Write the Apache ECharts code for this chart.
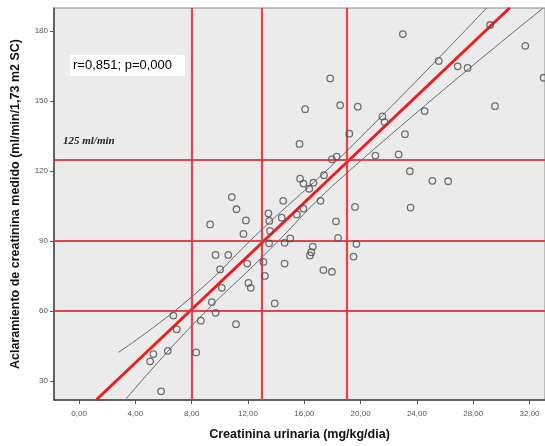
<!DOCTYPE html>
<html lang="es">
<head>
    <meta charset="UTF-8">
    <title>Creatinina urinaria vs aclaramiento</title>
    <script src="https://cdn.jsdelivr.net/npm/echarts@6/dist/echarts.min.js"></script>
    <style>
        html, body { margin: 0; padding: 0; background: #fff; }
    </style>
</head>
<body>
<div id="main" style="height:446px;width:545px"></div>

<script type="text/javascript">
    // ejes
    var xTicks = [0, 4, 8, 12, 16, 20, 24, 28, 32];
    var yTicks = [30, 60, 90, 120, 150, 180];

    // lineas de referencia
    var refX = [8, 13, 19];
    var refY = [60, 90, 125];

    // pacientes: creatinina urinaria (mg/kg/dia) y aclaramiento medido
    var creatinina = [5.83, 5.05, 5.28, 6.3, 8.32, 6.7, 6.94, 8.65, 9.43, 9.7,
        11.15, 10.14, 10.02, 9.7, 10.6, 9.31, 11.95, 12.03, 12.2, 11.68,
        11.85, 11.18, 10.85, 13.9, 13.1, 13.2, 13.45, 13.52, 13.5, 13.57,
        14.5, 14.4, 14.6, 15.0, 14.6, 15.7, 15.94, 16.65, 16.35, 17.4,
        17.15, 15.94, 15.47, 19.6, 18.25, 18.4, 19.7, 16.6, 16.4, 16.5,
        19.5, 17.36, 17.96, 17.84, 16.06, 18.55, 15.66, 19.2, 17.96, 18.3,
        23.0, 29.2, 31.7, 33.0, 25.55, 26.9, 27.6, 29.55, 19.8, 21.55,
        21.7, 24.55, 23.15, 21.05, 22.7, 23.5, 25.1, 26.22, 23.55];
    var aclaramiento = [25.5, 38.4, 41.5, 42.9, 42.2, 58.0, 52.1, 55.8, 63.8, 59.2,
        54.3, 69.9, 77.8, 84.0, 84.0, 97.1, 80.3, 72.0, 69.9, 93.0,
        98.8, 103.6, 108.8, 63.2, 81.0, 75.0, 101.8, 98.6, 89.0, 94.3,
        107.2, 100.0, 89.2, 91.1, 80.3, 116.7, 114.6, 115.0, 112.4, 118.2,
        107.2, 103.9, 101.4, 104.6, 98.4, 91.3, 88.7, 87.6, 83.8, 85.2,
        83.3, 77.5, 76.8, 159.7, 146.5, 148.2, 131.6, 136.0, 125.0, 126.2,
        178.7, 182.6, 173.7, 160.0, 167.2, 164.9, 164.2, 147.8, 147.6, 143.4,
        141.0, 145.7, 135.8, 126.6, 127.1, 119.9, 115.8, 115.6, 104.3];

    // recta de regresion e intervalo de confianza
    var ajusteX = [1.25, 30.6];
    var ajusteY = [22, 190];
    var icSupX = [2.79, 8, 13, 19, 28.97];
    var icSupY = [42.2, 66, 95, 128.5, 190];
    var icInfX = [3.27, 8, 13, 19, 33];
    var icInfY = [21.8, 53.6, 83, 119, 190];

    function pares(xs, ys) {
        var out = [];
        for (var i = 0; i < xs.length; i++) {
            out.push([xs[i], ys[i]]);
        }
        return out;
    }

    function coma(v) {
        return v.toFixed(2).replace('.', ',');
    }

    var refLineas = [];
    for (var i = 0; i < refX.length; i++) refLineas.push({xAxis: refX[i]});
    for (var j = 0; j < refY.length; j++) refLineas.push({yAxis: refY[j]});

    var myChart = echarts.init(document.getElementById('main'));
    myChart.setOption({
        animation: false,
        grid: {
            left: 54, right: 0, top: 8, bottom: 43,
            show: true,
            backgroundColor: '#ebebeb',
            borderColor: '#8a8a8a',
            borderWidth: 1
        },
        xAxis: {
            type: 'value',
            min: -1.78, max: 33.1,
            name: 'Creatinina urinaria (mg/kg/dia)',
            nameLocation: 'middle',
            nameGap: 28,
            nameTextStyle: {fontFamily: 'Liberation Sans', fontWeight: 'bold', fontSize: 12.5, color: '#111'},
            axisLine: {onZero: false, lineStyle: {color: '#444', width: 1.5}},
            axisTick: {show: true, length: 4, customValues: xTicks, lineStyle: {color: '#555'}},
            axisLabel: {
                customValues: xTicks,
                formatter: coma,
                fontFamily: 'Liberation Sans', fontSize: 8, color: '#555', margin: 10
            },
            splitLine: {show: false}
        },
        yAxis: {
            type: 'value',
            min: 21.8, max: 189.9,
            name: 'Aclaramiento de creatinina medido (ml/min/1,73 m2 SC)',
            nameLocation: 'middle',
            nameGap: 32,
            nameTextStyle: {fontFamily: 'Liberation Sans', fontWeight: 'bold', fontSize: 12.5, color: '#111'},
            axisLine: {show: true, onZero: false, lineStyle: {color: '#444', width: 1.5}},
            axisTick: {show: true, length: 4, customValues: yTicks, lineStyle: {color: '#555'}},
            axisLabel: {
                customValues: yTicks,
                fontFamily: 'Liberation Sans', fontSize: 8, color: '#555', margin: 6
            },
            splitLine: {show: false}
        },
        graphic: [
            {
                type: 'rect', left: 70, top: 55, z: 100,
                shape: {width: 115, height: 21},
                style: {fill: '#ffffff'}
            },
            {
                type: 'text', left: 73, top: 59, z: 101,
                style: {text: 'r=0,851; p=0,000', font: '13px "Liberation Sans"', fill: '#000'}
            },
            {
                type: 'text', left: 63, top: 136, z: 101,
                style: {text: '125 ml/min', font: 'italic bold 11px "Liberation Serif"', fill: '#222'}
            }
        ],
        series: [
            {
                name: 'referencias',
                type: 'line',
                data: [],
                markLine: {
                    silent: true,
                    symbol: 'none',
                    label: {show: false},
                    lineStyle: {color: '#e2343c', width: 2.2, type: 'solid', opacity: 0.9},
                    data: refLineas
                }
            },
            {
                name: 'IC superior',
                type: 'line',
                data: pares(icSupX, icSupY),
                smooth: true,
                symbol: 'none',
                lineStyle: {color: '#6a6a6a', width: 1},
                z: 3
            },
            {
                name: 'IC inferior',
                type: 'line',
                data: pares(icInfX, icInfY),
                smooth: true,
                symbol: 'none',
                lineStyle: {color: '#6a6a6a', width: 1},
                z: 3
            },
            {
                name: 'ajuste',
                type: 'line',
                data: pares(ajusteX, ajusteY),
                symbol: 'none',
                lineStyle: {color: '#ee1c1c', width: 3},
                z: 4
            },
            {
                name: 'pacientes',
                type: 'scatter',
                data: pares(creatinina, aclaramiento),
                symbol: 'circle',
                symbolSize: 6.5,
                itemStyle: {color: 'rgba(0,0,0,0)', borderColor: '#505050', borderWidth: 1.3},
                z: 5
            }
        ]
    });
</script>
</body>
</html>
